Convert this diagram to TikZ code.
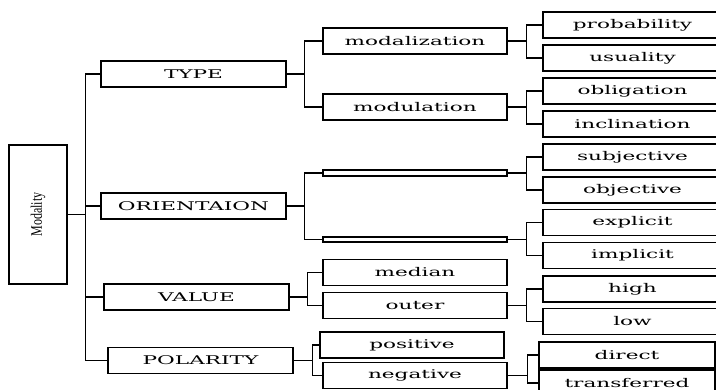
\documentclass[tikz,border=0pt]{standalone}
\usepackage{fontspec}
\setmainfont{DejaVu Serif}[FakeStretch=1.8]
\newfontfamily\narrowfont{Liberation Serif}[FakeStretch=0.75]
\begin{document}
\begin{tikzpicture}[x=1pt,y=-1pt,
    cat/.style={draw, line width=1.3pt, minimum height=26pt, inner sep=0pt,
      font=\fontsize{12}{14}\selectfont},
    lvlone/.style={cat, minimum width=185pt},
    lvltwo/.style={cat, minimum width=184pt},
    lvlthree/.style={cat, minimum width=179pt},
    flat/.style={draw, line width=1.3pt, minimum width=184pt, minimum height=6pt, inner sep=0pt},
    link/.style={line width=1.2pt}]
    \useasboundingbox (0,0) rectangle (716,390);

    % root
    \node[draw, line width=1.3pt, minimum width=58pt, minimum height=139pt,
      font=\narrowfont\fontsize{16}{18}\selectfont] (mod) at (38,214.5)
      {\rotatebox{90}{Modality}};

    % first level
    \node[lvlone] (type) at (193.5,74) {TYPE};
    \node[lvlone] (orient) at (193.5,206) {ORIENTAION};
    \node[lvlone] (value) at (196.5,297) {VALUE};
    \node[lvlone] (polar) at (200.5,360.5) {POLARITY};

    \draw[link] (mod.east) -- ++(18,0) |- (type.west);
    \draw[link] (mod.east) -- ++(18,0) |- (orient.west);
    \draw[link] (mod.east) -- ++(18,0) |- (value.west);
    \draw[link] (mod.east) -- ++(18,0) |- (polar.west);

    % second level
    \node[lvltwo] (modz) at (415,41) {modalization};
    \node[lvltwo] (modu) at (415,107) {modulation};
    \node[flat] (orienta) at (415,173) {};
    \node[flat, minimum height=5pt] (orientb) at (415,239.5) {};
    \node[lvltwo] (median) at (415,272.5) {median};
    \node[lvltwo] (outer) at (415,305.5) {outer};
    \node[lvltwo] (pos) at (412,345) {positive};
    \node[lvltwo] (neg) at (415,375.5) {negative};

    \draw[link] (type.east) -- ++(18,0) |- (modz.west);
    \draw[link] (type.east) -- ++(18,0) |- (modu.west);
    \draw[link] (orient.east) -- ++(18,0) |- (orienta.west);
    \draw[link] (orient.east) -- ++(18,0) |- (orientb.west);
    \draw[link] (value.east) -- ++(18,0) |- (median.west);
    \draw[link] (value.east) -- ++(18,0) |- (outer.west);
    \draw[link] (polar.east) -- ++(19,0) |- (pos.west);
    \draw[link] (polar.east) -- ++(19,0) |- (neg.west);

    % third level
    \node[lvlthree] (prob) at (632.5,25) {probability};
    \node[lvlthree] (usual) at (632.5,58) {usuality};
    \node[lvlthree] (oblig) at (632.5,91) {obligation};
    \node[lvlthree] (incl) at (632.5,124) {inclination};
    \node[lvlthree] (subj) at (632.5,157) {subjective};
    \node[lvlthree] (obj) at (632.5,190) {objective};
    \node[lvlthree] (expl) at (632.5,222.5) {explicit};
    \node[lvlthree] (impl) at (632.5,255.5) {implicit};
    \node[lvlthree] (high) at (632.5,289) {high};
    \node[lvlthree] (low) at (632.5,321.5) {low};
    \node[cat, minimum width=176pt] (direct) at (627,355) {direct};
    \node[cat, minimum width=176pt] (transf) at (627,383) {transferred};

    \draw[link] (modz.east) -- ++(19,0) |- (prob.west);
    \draw[link] (modz.east) -- ++(19,0) |- (usual.west);
    \draw[link] (modu.east) -- ++(19,0) |- (oblig.west);
    \draw[link] (modu.east) -- ++(19,0) |- (incl.west);
    \draw[link] (orienta.east) -- ++(19,0) |- (subj.west);
    \draw[link] (orienta.east) -- ++(19,0) |- (obj.west);
    \draw[link] (orientb.east) -- ++(19,0) |- (expl.west);
    \draw[link] (orientb.east) -- ++(19,0) |- (impl.west);
    \draw[link] (outer.east) -- ++(19,0) |- (high.west);
    \draw[link] (outer.east) -- ++(19,0) |- (low.west);
    \draw[link] (neg.east) -- ++(20,0) |- (direct.west);
    \draw[link] (neg.east) -- ++(20,0) |- (transf.west);
\end{tikzpicture}
\end{document}
